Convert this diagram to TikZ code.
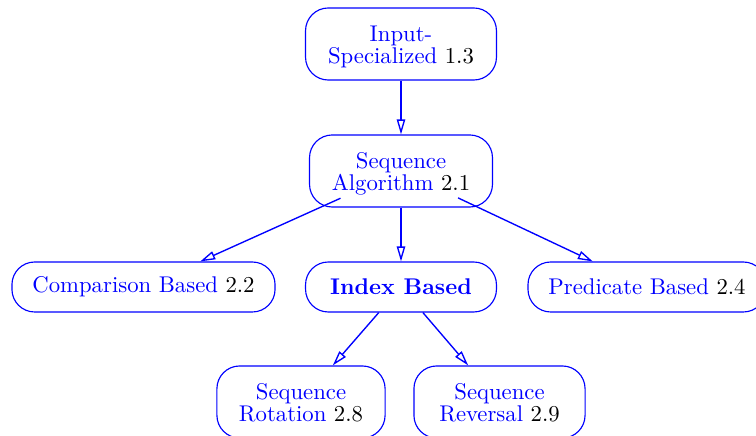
\documentclass[tikz,border=0pt]{standalone}
\usetikzlibrary{arrows.meta}
\definecolor{linkblue}{RGB}{0,0,255}
\begin{document}
\begin{tikzpicture}[x=0.44pt,y=-0.44pt,
  box/.style={draw=linkblue, text=linkblue, rounded corners=10pt, line width=0.5pt,
    inner xsep=9pt, inner ysep=2pt, align=center, font=\fontsize{10}{9.5}\selectfont},
  tall/.style={box, minimum height=31.7pt, text height=17pt, text depth=0pt},
  flat/.style={box, minimum height=22pt},
  link/.style={draw=linkblue, line width=0.6pt, -{Triangle[open,length=6.6pt,width=3.7pt]}}]
\useasboundingbox (0,0) rectangle (756,436);
% topic nodes
\node[tall, minimum width=84pt] (inp) at (401,44) {Input-\\Specialized \textcolor{black}{1.3}};
\node[tall, minimum width=80.5pt] (sa) at (401,171) {Sequence\\Algorithm \textcolor{black}{2.1}};
\node[flat] (cb) at (143.5,287) {Comparison Based \textcolor{black}{2.2}};
\node[flat, minimum width=84pt] (ib) at (401,287) {\textbf{Index Based}};
\node[flat] (pb) at (647,287) {Predicate Based \textcolor{black}{2.4}};
\node[tall, minimum width=74pt] (rot) at (301,402) {Sequence\\Rotation \textcolor{black}{2.8}};
\node[tall, minimum width=75.3pt] (rev) at (499.5,402) {Sequence\\Reversal \textcolor{black}{2.9}};
% dependencies
\draw[link] (inp) -- (sa);
\draw[link, shorten <=-10pt] (sa) -- (cb);
\draw[link] (sa) -- (ib);
\draw[link, shorten <=-10pt] (sa) -- (pb);
\draw[link] (ib) -- (rot);
\draw[link] (ib) -- (rev);
\end{tikzpicture}
\end{document}
